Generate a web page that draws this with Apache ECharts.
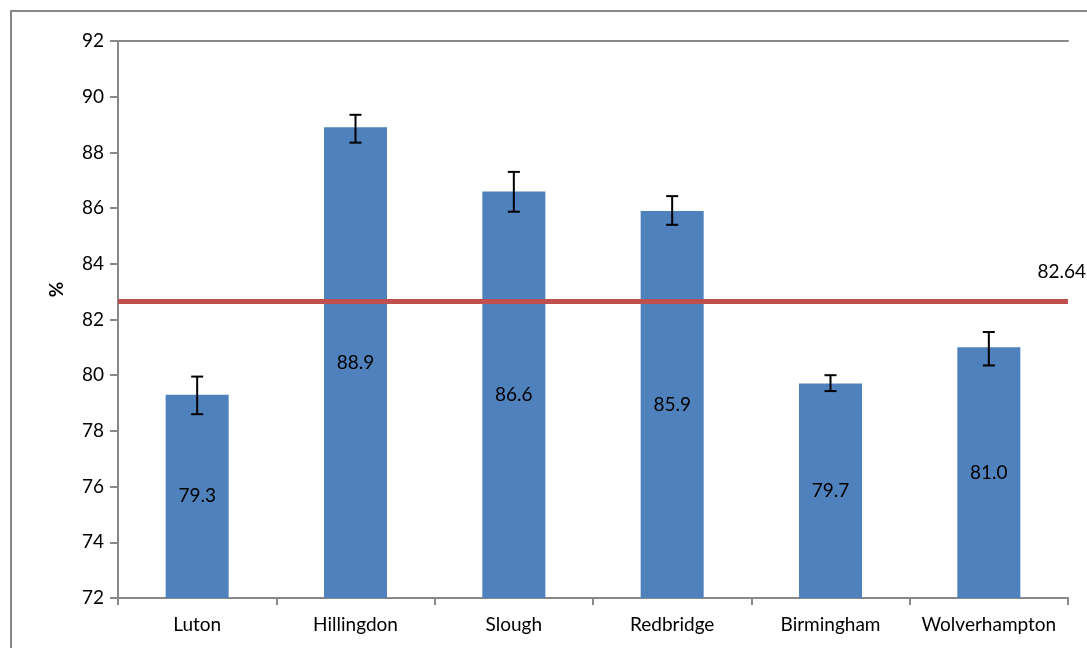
<!DOCTYPE html>
<html>
<head>
<meta charset="utf-8">
<script src="https://cdn.jsdelivr.net/npm/echarts@6/dist/echarts.min.js"></script>
<style>
  html, body { margin: 0; padding: 0; background: #fff; }
  #chart { width: 1087px; height: 648px; }
</style>
</head>
<body>
<div id="chart"></div>
<script>
// data
const categories = ['Luton', 'Hillingdon', 'Slough', 'Redbridge', 'Birmingham', 'Wolverhampton']
const values = [79.3, 88.9, 86.6, 85.9, 79.7, 81.0]
const errLow = [78.6, 88.35, 85.87, 85.4, 79.43, 80.35]
const errHigh = [79.95, 89.35, 87.3, 86.43, 80.0, 81.55]
const average = 82.64
const yTicks = [72, 74, 76, 78, 80, 82, 84, 86, 88, 90, 92]

const font = 'Lato, "Open Sans", sans-serif'
const axisGray = '#888888'
const fs = 19

const chart = echarts.init(document.getElementById('chart'))

const errData = categories.map((c, i) => [i, errLow[i], errHigh[i]])

const option = {
  animation: false,
  textStyle: { fontFamily: font },
  graphic: [
    {
      type: 'rect',
      shape: { x: 11, y: 11, width: 1200, height: 800 },
      style: { fill: 'none', stroke: axisGray, lineWidth: 2 },
      silent: true
    }
  ],
  grid: { left: 118, right: 19, top: 41, bottom: 50 },
  xAxis: [
    {
      type: 'category',
      data: categories,
      axisLine: { lineStyle: { color: axisGray, width: 2 } },
      axisTick: { show: true, interval: 0, length: 7, alignWithLabel: false, lineStyle: { color: axisGray, width: 2 } },
      axisLabel: { interval: 0, color: '#000', fontSize: fs, margin: 17, fontFamily: font, hideOverlap: false }
    },
    {
      type: 'category',
      position: 'top',
      data: categories,
      axisLine: { lineStyle: { color: axisGray, width: 2 } },
      axisTick: { show: false },
      axisLabel: { show: false }
    }
  ],
  yAxis: {
    type: 'value',
    min: yTicks[0],
    max: yTicks[yTicks.length - 1],
    interval: 2,
    name: '%',
    nameLocation: 'middle',
    nameRotate: 90,
    nameGap: 52,
    nameTextStyle: { color: '#000', fontSize: fs, fontWeight: 'bold', fontFamily: font, padding: [0, 0, 0, 60] },
    axisLine: { show: true, lineStyle: { color: axisGray, width: 2 } },
    axisTick: { show: true, length: 8, lineStyle: { color: axisGray, width: 2 } },
    axisLabel: { color: '#000', fontSize: fs, margin: 14, fontFamily: font },
    splitLine: { show: false }
  },
  series: [
    {
      type: 'bar',
      data: values,
      barWidth: 63,
      itemStyle: { color: '#4F81BD' },
      label: {
        show: true,
        position: 'inside',
        color: '#000',
        fontSize: fs,
        fontFamily: font,
        formatter: p => p.value.toFixed(1)
      },
      markLine: {
        symbol: 'none',
        silent: true,
        lineStyle: { color: '#C0504D', width: 5, type: 'solid' },
        label: {
          show: true,
          position: 'insideEndTop',
          formatter: '82.64',
          color: '#000',
          fontSize: fs,
          fontFamily: font,
          distance: 20,
          offset: [38, 0]
        },
        data: [{ yAxis: average }]
      }
    },
    {
      type: 'custom',
      data: errData,
      z: 5,
      renderItem: function (params, api) {
        const x = api.value(0)
        const lo = api.coord([x, api.value(1)])
        const hi = api.coord([x, api.value(2)])
        const cap = 6
        const style = { stroke: '#000', lineWidth: 2 }
        return {
          type: 'group',
          children: [
            { type: 'line', shape: { x1: hi[0], y1: hi[1], x2: lo[0], y2: lo[1] }, style: style },
            { type: 'line', shape: { x1: hi[0] - cap, y1: hi[1], x2: hi[0] + cap, y2: hi[1] }, style: style },
            { type: 'line', shape: { x1: lo[0] - cap, y1: lo[1], x2: lo[0] + cap, y2: lo[1] }, style: style }
          ]
        }
      }
    }
  ]
}

chart.setOption(option)
</script>
</body>
</html>
